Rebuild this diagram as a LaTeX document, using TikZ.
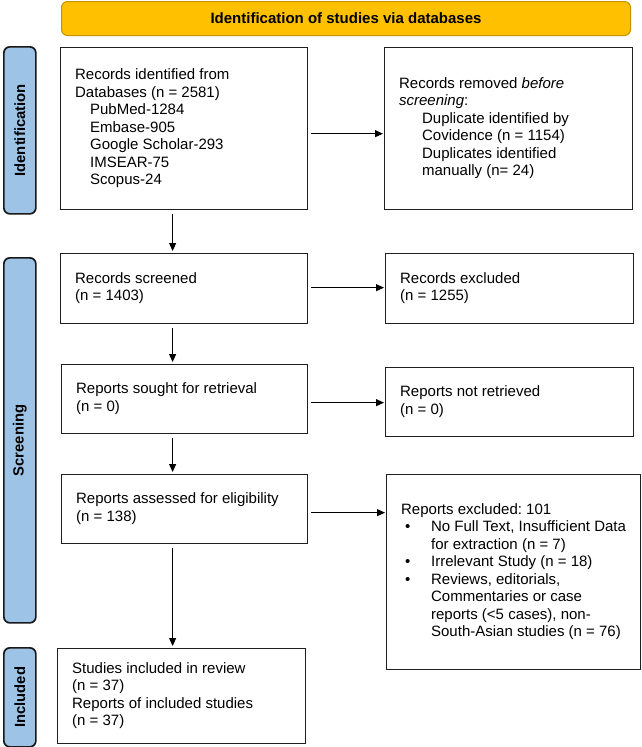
\documentclass[tikz,border=0pt]{standalone}
\usepackage{fontspec}
\setmainfont{Liberation Sans}
\usetikzlibrary{arrows.meta,calc}
\definecolor{bannerfill}{HTML}{FFC000}
\definecolor{bannerline}{HTML}{C59300}
\definecolor{sidefill}{HTML}{9DC3E6}
\newcommand\bxtext[2]{\makebox[#1][l]{\hspace*{14.5pt}\begin{tabular}{@{}l@{}}#2\end{tabular}}}
\newcommand\ind[1]{\hspace*{#1}}
\newcommand\bul{\hspace*{4pt}\makebox[26pt][l]{\textbullet}}
\frenchspacing
\begin{document}
\frenchspacing
\begin{tikzpicture}[x=1pt,y=-1pt,
  box/.style={draw=black!88, line width=1.3pt, inner sep=0pt, anchor=north west, font=\fontsize{15}{17.5}\selectfont},
  sidebar/.style={draw=black!90, line width=1.7pt, fill=sidefill, rounded corners=6pt, anchor=north west, minimum width=32pt, inner sep=0pt},
  sidelabel/.style={rotate=90, font=\fontsize{14.8}{17}\selectfont\bfseries},
  arr/.style={line width=1pt, -{Triangle[length=8pt,width=7pt]}, shorten <=3pt, shorten >=1pt},
  varr/.style={line width=1pt, -{Triangle[length=8pt,width=7pt]}, shorten <=4pt, shorten >=2pt}]
\useasboundingbox (0,0) rectangle (641,747);

% banner
\node[draw=bannerline, fill=bannerfill, line width=1pt, rounded corners=6pt, minimum width=569pt, minimum height=34pt, inner sep=0pt, anchor=north west, font=\fontsize{15}{17}\selectfont\bfseries] (banner) at (61,1) {Identification of studies via databases};

% side bars
\node[sidebar, minimum height=167pt] (sid) at (3,46) {};
\node[sidelabel] (sidl) at (sid.center) {Identification};
\node[sidebar, minimum height=365pt] (sscr) at (3,257) {};
\node[sidelabel] (sscrl) at (sscr.center) {Screening};
\node[sidebar, minimum height=99pt] (sinc) at (3,647) {};
\node[sidelabel] (sincl) at (sinc.center) {Included};

% boxes
\node[box, minimum height=162pt] (id1) at (60,47) {\bxtext{247pt}{Records identified from\\Databases (n = 2581)\\\ind{15pt}PubMed-1284\\\ind{15pt}Embase-905\\\ind{15pt}Google Scholar-293\\\ind{15pt}IMSEAR-75\\\ind{15pt}Scopus-24}};
\node[box, minimum height=162pt] (rem) at (384,47) {\bxtext{248pt}{Records removed \textit{before}\\\textit{screening}:\\\ind{23pt}Duplicate identified by\\\ind{23pt}Covidence (n = 1154)\\\ind{23pt}Duplicates identified\\\ind{23pt}manually (n= 24)}};

\node[box, minimum height=70pt] (scr) at (60,253) {\bxtext{247pt}{Records screened\\(n = 1403)}};
\node[box, minimum height=70pt] (exc) at (385,253) {\bxtext{248pt}{Records excluded\\(n = 1255)}};

\node[box, minimum height=69pt] (sought) at (61,364) {\bxtext{246pt}{Reports sought for retrieval\\(n = 0)}};
\node[box, minimum height=69pt] (notret) at (385,367) {\bxtext{248pt}{Reports not retrieved\\(n = 0)}};

\node[box, minimum height=69pt] (assess) at (61,474) {\bxtext{246pt}{Reports assessed for eligibility\\(n = 138)}};
\node[box, minimum height=195pt] (repexc) at (386,474) {\bxtext{254pt}{Reports excluded: 101\\
\bul No Full Text, Insufficient Data\\
\ind{30pt}for extraction (n = 7)\\
\bul Irrelevant Study (n = 18)\\
\bul Reviews, editorials,\\
\ind{30pt}Commentaries or case\\
\ind{30pt}reports (<5 cases), non-\\
\ind{30pt}South-Asian studies (n = 76)}};

\node[box, minimum height=95pt] (incl) at (57,648) {\bxtext{248pt}{Studies included in review\\(n = 37)\\Reports of included studies\\(n = 37)}};

% vertical arrows
\coordinate (col) at (172.6,0);
\draw[varr] (id1.south -| col) -- (scr.north -| col);
\draw[varr] (scr.south -| col) -- (sought.north -| col);
\draw[varr] (sought.south -| col) -- (assess.north -| col);
\draw[varr] (assess.south -| col) -- (incl.north -| col);

% horizontal arrows
\coordinate (h1) at ([yshift=-5pt]id1.east);
\coordinate (h2) at ([yshift=1pt]scr.east);
\coordinate (h3) at ([yshift=-3.5pt]sought.east);
\coordinate (h4) at ([yshift=-3.5pt]assess.east);
\draw[arr] (h1) -- (h1 -| rem.west);
\draw[arr] (h2) -- (h2 -| exc.west);
\draw[arr] (h3) -- (h3 -| notret.west);
\draw[arr] (h4) -- (h4 -| repexc.west);
\end{tikzpicture}
\end{document}
